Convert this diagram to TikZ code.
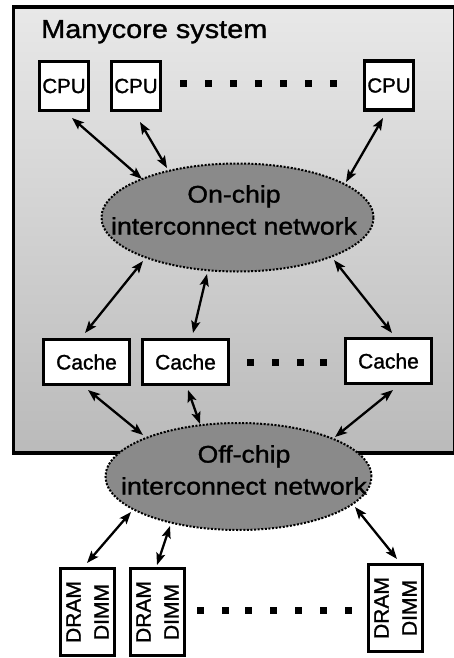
\documentclass[tikz,border=0pt]{standalone}
\usepackage{fontspec}
\setmainfont[FakeBold=1.2]{Liberation Sans}
\newfontfamily\widefont[FakeStretch=1.11,FakeBold=1.2]{Liberation Sans}
\usetikzlibrary{arrows.meta,calc,shapes.geometric}
\begin{document}
\begin{tikzpicture}[x=1pt,y=-1pt,
 sysbox/.style={draw=black,line width=3.5pt,top color=black!9,bottom color=black!27,minimum width=441pt,minimum height=445.5pt,inner sep=0pt,anchor=north west},
 cpubox/.style={draw=black,line width=3.2pt,fill=white,minimum width=49pt,minimum height=49pt,inner sep=0pt,font=\fontsize{20.5}{24}\selectfont},
 cachebox/.style={draw=black,line width=3.2pt,fill=white,minimum width=86pt,minimum height=45pt,inner sep=0pt,font=\fontsize{21}{25}\selectfont},
 drambox/.style={draw=black,line width=3.2pt,fill=white,rotate=90,minimum width=87pt,minimum height=54pt,inner sep=0pt,align=center,font=\fontsize{21}{28}\selectfont},
 net/.style={ellipse,draw=black,line width=2pt,dash pattern=on 2pt off 1.6pt,fill=black!46,minimum width=272pt,minimum height=108pt,inner sep=0pt},
 nettext/.style={align=center,inner sep=0pt,font=\widefont\fontsize{24}{32}\selectfont},
 link/.style={line width=2.3pt,{Stealth[length=12pt,width=9pt,inset=2.5pt]}-{Stealth[length=12pt,width=9pt,inset=2.5pt]}},
 sq/.style={fill=black}
]
\useasboundingbox (0,0) rectangle (454,658);
% system frame
\node[sysbox] (sys) at (11.5,5.5) {};
\node[anchor=base west,inner sep=0pt,font=\widefont\fontsize{26}{30}\selectfont] (title) at (41,38) {Manycore system};
% networks
\node[net] (onnet) at (237.5,217.5) {};
\node[nettext] (ontext) at (234,210) {On-chip\\interconnect network};
\node[net,minimum width=266pt,minimum height=107pt] (offnet) at (238.5,476.5) {};
\node[nettext] (offtext) at (244,470) {Off-chip\\interconnect network};
% CPUs
\node[cpubox] (cpu1) at (64,86) {CPU};
\node[cpubox] (cpu2) at (136,86) {CPU};
\node[cpubox] (cpu3) at (389,85.5) {CPU};
\foreach \x in {183,208,233,258,283,308,333} \fill[sq] (\x-3.5,80) rectangle (\x+3.5,87);
% caches
\node[cachebox] (cache1) at (86.5,362) {Cache};
\node[cachebox] (cache2) at (185.5,362) {Cache};
\node[cachebox] (cache3) at (388.5,361) {Cache};
\foreach \x in {250,275,300,323} \fill[sq] (\x-3.5,358.5) rectangle (\x+3.5,365.5);
% DRAMs
\node[drambox] (dram1) at (87.5,612) {DRAM\\DIMM};
\node[drambox] (dram2) at (157.5,612) {DRAM\\DIMM};
\node[drambox] (dram3) at (395.5,608) {DRAM\\DIMM};
\foreach \x in {200,225,248,273,298,323,348} \fill[sq] (\x-3.5,607) rectangle (\x+3.5,614);
% links CPU - on-chip
\draw[link] ($(cpu1)+(8,32)$) -- ($(onnet)+(-95.5,-38.5)$);
\draw[link] ($(cpu2)+(4,36)$) -- ($(onnet)+(-70.5,-49.5)$);
\draw[link] ($(cpu3)+(-6,32.5)$) -- ($(onnet)+(108.5,-35.5)$);
% links on-chip - caches
\draw[link] ($(onnet)+(-94.5,43.5)$) -- ($(cache1)+(-1.5,-29)$);
\draw[link] ($(onnet)+(-30.5,56.5)$) -- ($(cache2)+(7.5,-29)$);
\draw[link] ($(onnet)+(96.5,42.5)$) -- ($(cache3)+(3.5,-28)$);
% links caches - off-chip
\draw[link] ($(cache1)+(1.5,28)$) -- ($(offnet)+(-95.5,-41.5)$);
\draw[link] ($(cache2)+(2.5,28)$) -- ($(offnet)+(-38.5,-52.5)$);
\draw[link] ($(cache3)+(4.5,29)$) -- ($(offnet)+(96.5,-39.5)$);
% links off-chip - DRAM
\draw[link] ($(offnet)+(-107.5,35.5)$) -- ($(dram1)+(-0.5,-49)$);
\draw[link] ($(offnet)+(-68.5,49.5)$) -- ($(dram2)+(-0.5,-47)$);
\draw[link] ($(offnet)+(116.5,30.5)$) -- ($(dram3)+(1.5,-49)$);
\end{tikzpicture}
\end{document}
